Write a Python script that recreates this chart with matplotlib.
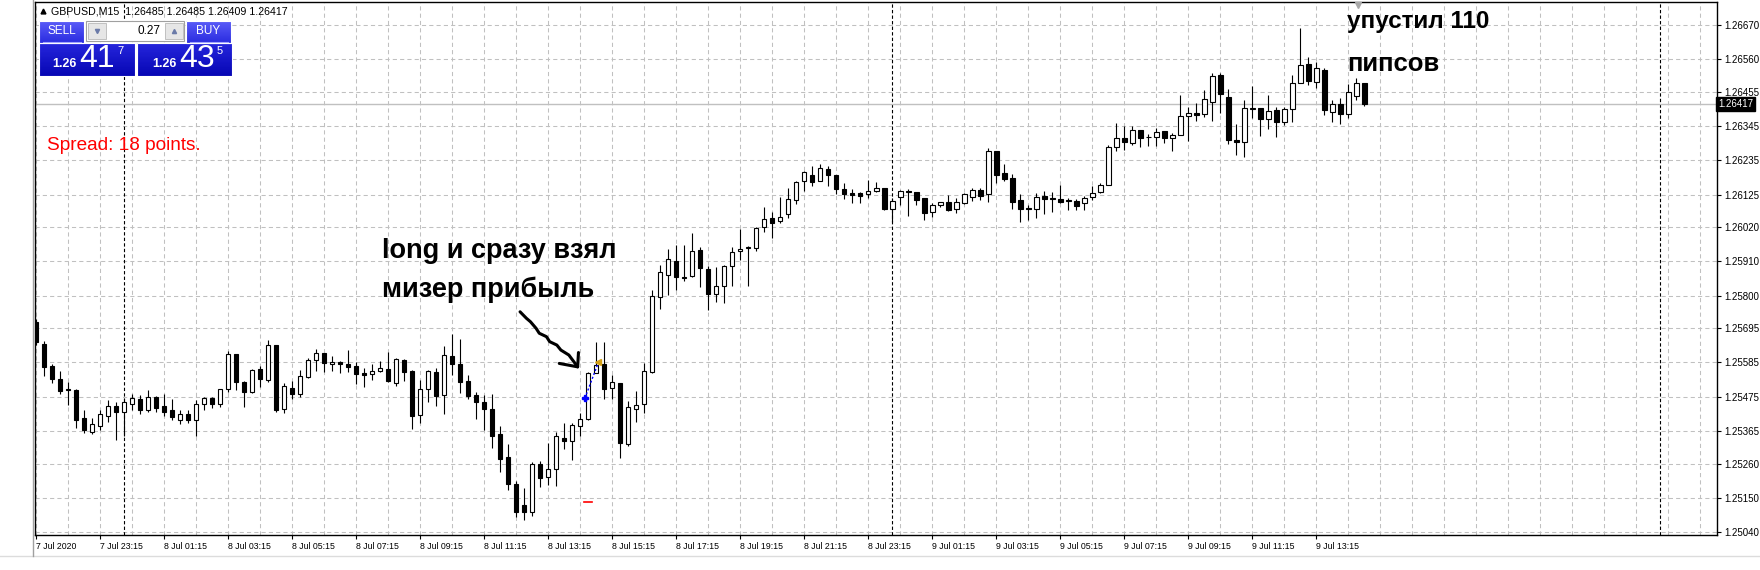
import numpy as np
import matplotlib
matplotlib.use('Agg')
import matplotlib.pyplot as plt
from matplotlib.patches import Rectangle
from matplotlib.transforms import blended_transform_factory

# GBPUSD M15, one bar per entry
o = [1.25716, 1.25644, 1.25574, 1.25531, 1.25500, 1.25497, 1.25406, 1.25361, 1.25381, 1.25413,
     1.25445, 1.25425, 1.25451, 1.25467, 1.25432, 1.25474, 1.25445, 1.25432, 1.25400, 1.25419,
     1.25400, 1.25451, 1.25470, 1.25451, 1.25499, 1.25611, 1.25521, 1.25491, 1.25563, 1.25528,
     1.25641, 1.25434, 1.25502, 1.25483, 1.25537, 1.25592, 1.25615, 1.25579, 1.25588, 1.25580,
     1.25574, 1.25550, 1.25547, 1.25559, 1.25563, 1.25520, 1.25592, 1.25558, 1.25415, 1.25499,
     1.25554, 1.25480, 1.25605, 1.25580, 1.25526, 1.25480, 1.25457, 1.25437, 1.25355, 1.25281,
     1.25194, 1.25127, 1.25104, 1.25259, 1.25216, 1.25242, 1.25342, 1.25334, 1.25380, 1.25402,
     1.25552, 1.25580, 1.25502, 1.25518, 1.25323, 1.25437, 1.25451, 1.25555, 1.25797, 1.25866,
     1.25912, 1.25860, 1.25863, 1.25946, 1.25885, 1.25804, 1.25831, 1.25895, 1.25943, 1.25954,
     1.25952, 1.26021, 1.26048, 1.26039, 1.26061, 1.26106, 1.26167, 1.26187, 1.26167, 1.26206,
     1.26187, 1.26144, 1.26129, 1.26129, 1.26126, 1.26137, 1.26145, 1.26079, 1.26118, 1.26137,
     1.26134, 1.26115, 1.26070, 1.26090, 1.26100, 1.26077, 1.26099, 1.26118, 1.26139, 1.26126,
     1.26265, 1.26193, 1.26177, 1.26107, 1.26082, 1.26077, 1.26120, 1.26115, 1.26111, 1.26107,
     1.26104, 1.26097, 1.26116, 1.26134, 1.26155, 1.26277, 1.26306, 1.26292, 1.26332, 1.26310,
     1.26309, 1.26329, 1.26306, 1.26315, 1.26377, 1.26386, 1.26384, 1.26423, 1.26508, 1.26438,
     1.26299, 1.26293, 1.26401, 1.26402, 1.26367, 1.26397, 1.26357, 1.26399, 1.26483, 1.26544,
     1.26487, 1.26525, 1.26390, 1.26416, 1.26384, 1.26442, 1.26485]
h = [1.25724, 1.25654, 1.25580, 1.25558, 1.25522, 1.25500, 1.25432, 1.25406, 1.25432, 1.25464,
     1.25458, 1.25470, 1.25484, 1.25480, 1.25497, 1.25477, 1.25484, 1.25467, 1.25432, 1.25432,
     1.25464, 1.25474, 1.25474, 1.25501, 1.25622, 1.25612, 1.25526, 1.25564, 1.25574, 1.25657,
     1.25641, 1.25518, 1.25526, 1.25561, 1.25599, 1.25628, 1.25615, 1.25606, 1.25590, 1.25624,
     1.25586, 1.25566, 1.25579, 1.25589, 1.25619, 1.25599, 1.25596, 1.25561, 1.25529, 1.25561,
     1.25566, 1.25638, 1.25677, 1.25660, 1.25545, 1.25491, 1.25480, 1.25484, 1.25381, 1.25323,
     1.25204, 1.25181, 1.25265, 1.25269, 1.25326, 1.25361, 1.25390, 1.25390, 1.25423, 1.25555,
     1.25652, 1.25652, 1.25545, 1.25520, 1.25462, 1.25492, 1.25584, 1.25818, 1.25898, 1.25950,
     1.25963, 1.25963, 1.26000, 1.25957, 1.25895, 1.25893, 1.25898, 1.25957, 1.26014, 1.25959,
     1.26021, 1.26084, 1.26068, 1.26116, 1.26145, 1.26169, 1.26202, 1.26217, 1.26223, 1.26217,
     1.26187, 1.26161, 1.26142, 1.26132, 1.26172, 1.26165, 1.26147, 1.26113, 1.26139, 1.26143,
     1.26134, 1.26115, 1.26097, 1.26102, 1.26123, 1.26113, 1.26131, 1.26145, 1.26145, 1.26275,
     1.26265, 1.26223, 1.26190, 1.26127, 1.26091, 1.26129, 1.26136, 1.26132, 1.26156, 1.26115,
     1.26110, 1.26120, 1.26152, 1.26161, 1.26284, 1.26354, 1.26345, 1.26345, 1.26332, 1.26320,
     1.26338, 1.26329, 1.26322, 1.26445, 1.26405, 1.26418, 1.26461, 1.26516, 1.26515, 1.26463,
     1.26351, 1.26429, 1.26474, 1.26402, 1.26445, 1.26405, 1.26405, 1.26509, 1.26659, 1.26566,
     1.26551, 1.26532, 1.26429, 1.26435, 1.26480, 1.26500, 1.26485]
l = [1.25641, 1.25542, 1.25520, 1.25484, 1.25448, 1.25374, 1.25358, 1.25355, 1.25368, 1.25393,
     1.25335, 1.25348, 1.25432, 1.25419, 1.25425, 1.25425, 1.25413, 1.25400, 1.25387, 1.25390,
     1.25348, 1.25432, 1.25438, 1.25442, 1.25490, 1.25497, 1.25443, 1.25486, 1.25507, 1.25523,
     1.25427, 1.25422, 1.25468, 1.25475, 1.25534, 1.25559, 1.25555, 1.25559, 1.25552, 1.25554,
     1.25516, 1.25505, 1.25529, 1.25554, 1.25523, 1.25510, 1.25526, 1.25371, 1.25391, 1.25459,
     1.25446, 1.25418, 1.25545, 1.25486, 1.25468, 1.25403, 1.25368, 1.25309, 1.25234, 1.25175,
     1.25088, 1.25079, 1.25091, 1.25184, 1.25191, 1.25188, 1.25308, 1.25272, 1.25349, 1.25400,
     1.25552, 1.25467, 1.25467, 1.25277, 1.25317, 1.25395, 1.25422, 1.25552, 1.25756, 1.25802,
     1.25818, 1.25848, 1.25861, 1.25827, 1.25754, 1.25780, 1.25775, 1.25832, 1.25914, 1.25832,
     1.25944, 1.26005, 1.25984, 1.26034, 1.26050, 1.26094, 1.26137, 1.26153, 1.26167, 1.26153,
     1.26126, 1.26110, 1.26097, 1.26097, 1.26113, 1.26134, 1.26075, 1.26037, 1.26091, 1.26056,
     1.26091, 1.26043, 1.26054, 1.26086, 1.26073, 1.26065, 1.26094, 1.26104, 1.26107, 1.26102,
     1.26161, 1.26169, 1.26078, 1.26037, 1.26043, 1.26048, 1.26062, 1.26070, 1.26097, 1.26075,
     1.26075, 1.26075, 1.26107, 1.26129, 1.26155, 1.26266, 1.26268, 1.26284, 1.26279, 1.26282,
     1.26282, 1.26292, 1.26266, 1.26315, 1.26297, 1.26362, 1.26375, 1.26362, 1.26386, 1.26287,
     1.26252, 1.26245, 1.26370, 1.26314, 1.26335, 1.26311, 1.26349, 1.26359, 1.26483, 1.26477,
     1.26468, 1.26381, 1.26358, 1.26352, 1.26371, 1.26429, 1.26409]
c = [1.25652, 1.25571, 1.25533, 1.25494, 1.25497, 1.25400, 1.25368, 1.25387, 1.25419, 1.25445,
     1.25425, 1.25458, 1.25470, 1.25432, 1.25474, 1.25438, 1.25425, 1.25409, 1.25419, 1.25400,
     1.25451, 1.25470, 1.25451, 1.25499, 1.25611, 1.25521, 1.25489, 1.25560, 1.25531, 1.25640,
     1.25432, 1.25508, 1.25485, 1.25542, 1.25592, 1.25615, 1.25582, 1.25586, 1.25581, 1.25571,
     1.25549, 1.25546, 1.25557, 1.25566, 1.25526, 1.25595, 1.25555, 1.25414, 1.25499, 1.25557,
     1.25477, 1.25608, 1.25579, 1.25523, 1.25478, 1.25459, 1.25436, 1.25350, 1.25275, 1.25193,
     1.25104, 1.25104, 1.25259, 1.25215, 1.25242, 1.25348, 1.25332, 1.25384, 1.25402, 1.25550,
     1.25577, 1.25500, 1.25523, 1.25325, 1.25441, 1.25447, 1.25557, 1.25799, 1.25876, 1.25918,
     1.25859, 1.25858, 1.25943, 1.25888, 1.25804, 1.25831, 1.25895, 1.25939, 1.25949, 1.25955,
     1.26016, 1.26046, 1.26034, 1.26054, 1.26110, 1.26165, 1.26196, 1.26166, 1.26209, 1.26187,
     1.26144, 1.26126, 1.26124, 1.26119, 1.26135, 1.26145, 1.26078, 1.26104, 1.26136, 1.26132,
     1.26107, 1.26067, 1.26091, 1.26100, 1.26075, 1.26100, 1.26127, 1.26139, 1.26121, 1.26265,
     1.26188, 1.26174, 1.26102, 1.26079, 1.26077, 1.26116, 1.26110, 1.26110, 1.26102, 1.26104,
     1.26089, 1.26115, 1.26131, 1.26156, 1.26277, 1.26306, 1.26293, 1.26332, 1.26308, 1.26309,
     1.26327, 1.26308, 1.26316, 1.26377, 1.26386, 1.26382, 1.26431, 1.26505, 1.26447, 1.26299,
     1.26293, 1.26402, 1.26403, 1.26367, 1.26394, 1.26359, 1.26399, 1.26483, 1.26541, 1.26491,
     1.26532, 1.26397, 1.26416, 1.26384, 1.26455, 1.26485, 1.26417]

price_ticks = [1.26670, 1.26560, 1.26455, 1.26345, 1.26235, 1.26125, 1.26020, 1.25910,
               1.25800, 1.25695, 1.25585, 1.25475, 1.25365, 1.25260, 1.25150, 1.25040]
time_labels = ['7 Jul 2020', '7 Jul 23:15', '8 Jul 01:15', '8 Jul 03:15', '8 Jul 05:15',
               '8 Jul 07:15', '8 Jul 09:15', '8 Jul 11:15', '8 Jul 13:15', '8 Jul 15:15',
               '8 Jul 17:15', '8 Jul 19:15', '8 Jul 21:15', '8 Jul 23:15', '9 Jul 01:15',
               '9 Jul 03:15', '9 Jul 05:15', '9 Jul 07:15', '9 Jul 09:15', '9 Jul 11:15',
               '9 Jul 13:15']
day_separators = [11, 107, 203]   # bar index of 00:00

bid = 1.26417
ask = 1.26435
lot = 0.27
spread = 18
last_bar = [1.26485, 1.26485, 1.26409, 1.26417]

# the long trade
entry_bar, entry_price = 68.6, 1.25470
exit_bar, exit_price = 70.3, 1.25586
sl_bar, sl_price = 69.0, 1.25135

# hand drawn arrow (bar index, price)
arrow_x = [60.5, 61.3, 61.8, 62.5, 62.9, 63.8, 64.2, 65.1, 65.6, 66.6, 67.7]
arrow_y = [1.25748, 1.25727, 1.25716, 1.25695, 1.25679, 1.25668, 1.25652, 1.25641, 1.25625, 1.25609, 1.25571]
head_x = [65.4, 67.7, 67.8]
head_y = [1.25582, 1.25571, 1.25617]

o = np.array(o); h = np.array(h); l = np.array(l); c = np.array(c)
n = len(c)
x = np.arange(n)
up = c >= o

plt.rcParams['font.family'] = ['Liberation Sans', 'DejaVu Sans']

W, H = 1760, 570
fig = plt.figure(figsize=(W / 100, H / 100), dpi=100)
ax = fig.add_axes([35 / W, 35 / H, (1717 - 35) / W, (535 - 2) / H])
ax.set_xlim(-0.125, 210.1)
ax.set_ylim(1.250304, 1.26744)

grid_kw = dict(colors='#c0c0c0', linestyles=(0, (4, 3)), linewidth=0.75, zorder=1)
ax.vlines(np.arange(0, 212, 4), 1.250304, 1.26744, **grid_kw)
ax.hlines(price_ticks, -0.125, 210.1, **grid_kw)
ax.vlines(day_separators, 1.250304, 1.26744, colors='black', linestyles=(0, (3, 2)),
          linewidth=0.8, zorder=2)
ax.axhline(bid, color='#c0c0c0', lw=1, zorder=2)

# candles
ax.vlines(x, l, h, colors='black', linewidth=0.8, zorder=3)
ax.bar(x, np.abs(c - o), bottom=np.minimum(o, c), width=0.6,
       color=np.where(up, 'white', 'black'), edgecolor='black', linewidth=0.8, zorder=4)
doji = o == c
ax.hlines(o[doji], x[doji] - 0.35, x[doji] + 0.35, colors='black', linewidth=0.9, zorder=5)

# trade marks
ax.plot([entry_bar, exit_bar], [entry_price, exit_price], color='blue', lw=1,
        linestyle=(0, (1.5, 1.5)), zorder=6)
ax.plot(entry_bar, entry_price, marker='P', color='blue', ms=5, zorder=7)
ax.plot(exit_bar, exit_price, marker='<', color='#d4a017', ms=5, zorder=7)
ax.plot([sl_bar - 0.5, sl_bar + 0.5], [sl_price, sl_price], color='red', lw=1.2, zorder=6)

# annotations
ax.plot(arrow_x, arrow_y, color='black', lw=2.2, solid_capstyle='round', zorder=8)
ax.plot(head_x, head_y, color='black', lw=2.2, solid_capstyle='round',
        solid_joinstyle='round', zorder=8)
note_kw = dict(fontweight='bold', color='black', va='center', zorder=9)
ax.text(43.25, 1.25943, 'long и сразу взял', fontsize=19.5, **note_kw)
ax.text(43.25, 1.25818, 'мизер прибыль', fontsize=19.5, **note_kw)
ax.text(163.9, 1.26680, 'упустил 110', fontsize=17.5, **note_kw)
ax.text(163.9, 1.26545, 'пипсов', fontsize=18.5, **note_kw)

# axes
for s in ax.spines.values():
    s.set_linewidth(1)
    s.set_color('black')
ax.yaxis.tick_right()
ax.set_yticks(price_ticks)
ax.set_yticklabels([f'{v:.5f}' for v in price_ticks])
ax.tick_params(axis='y', length=3, width=0.8, pad=2, labelsize=7, direction='out')
ax.set_xticks(np.arange(0, 8 * len(time_labels), 8))
ax.set_xticklabels(time_labels)
ax.tick_params(axis='x', length=3, width=0.8, pad=2, labelsize=6.3, direction='out')
for lab in ax.get_xticklabels():
    lab.set_ha('left')

tr = blended_transform_factory(ax.transAxes, ax.transData)
ax.text(1.0008, bid, f'{bid:.5f}', transform=tr, fontsize=7, color='white', va='center',
        ha='left', bbox=dict(boxstyle='square,pad=0.22', fc='black', ec='black'), clip_on=False)

# overlay in pixels for terminal widgets
ov = fig.add_axes([0, 0, 1, 1], facecolor='none')
ov.set_xlim(0, W)
ov.set_ylim(H, 0)
ov.axis('off')

ov.plot([0, W], [556, 556], color='#dcdcdc', lw=1)
ov.plot([33, 33], [0, 556], color='#a0a0a0', lw=1)
ov.plot(1358, 5, marker='v', color='#a8a8a8', ms=5)

ov.plot(43, 11, marker='^', color='black', ms=3.5)
ov.text(51, 11, 'GBPUSD,M15  ' + ' '.join(f'{v:.5f}' for v in last_bar),
        fontsize=7.7, va='center', ha='left')


def grad_box(x0, x1, y0, y1, top, bot):
    t = np.linspace(0, 1, 40)[:, None, None]
    top = np.array(matplotlib.colors.to_rgb(top))
    bot = np.array(matplotlib.colors.to_rgb(bot))
    img = top * (1 - t) + bot * t
    ov.imshow(img, extent=[x0, x1, y1, y0], aspect='auto', interpolation='bilinear', zorder=2)
    ov.add_patch(Rectangle((x0, y0), x1 - x0, y1 - y0, fill=False, ec='white', lw=0.8, zorder=3))


grad_box(39, 84, 21, 43, '#5a5cf8', '#2a2ce0')
grad_box(186, 231, 21, 43, '#5a5cf8', '#2a2ce0')
grad_box(39, 135, 43, 76, '#2626dc', '#0606b4')
grad_box(137, 232, 43, 76, '#2626dc', '#0606b4')
ov.set_xlim(0, W)
ov.set_ylim(H, 0)

ov.add_patch(Rectangle((86, 21), 98, 20, fc='white', ec='#a0a0a0', lw=0.8, zorder=3))
ov.add_patch(Rectangle((88, 23), 18, 16, fc='#e6e6e6', ec='#b8b8b8', lw=0.6, zorder=4))
ov.add_patch(Rectangle((165, 23), 18, 16, fc='#e6e6e6', ec='#b8b8b8', lw=0.6, zorder=4))
ov.plot(97, 31, marker='v', color='#6a7aa8', ms=3, zorder=5)
ov.plot(174, 31, marker='^', color='#6a7aa8', ms=3, zorder=5)
ov.text(160, 31, f'{lot:.2f}', fontsize=8.5, ha='right', va='center', zorder=5)

ov.plot([43, 81], [41.5, 41.5], color='#a0a4ff', lw=0.8, zorder=4)
ov.plot([190, 228], [41.5, 41.5], color='#a0a4ff', lw=0.8, zorder=4)
ov.text(61.5, 31, 'SELL', fontsize=8.5, color='white', ha='center', va='center', zorder=5)
ov.text(208.5, 31, 'BUY', fontsize=8.5, color='white', ha='center', va='center', zorder=5)

for px, val in [(52, bid), (152, ask)]:
    s = f'{val:.5f}'
    ov.text(px, 64, s[:4], fontsize=9, fontweight='bold', color='white', va='center', zorder=5)
    ov.text(px + 27, 59, s[4:6], fontsize=23, color='white', va='center', zorder=5)
    ov.text(px + 65, 51, s[6], fontsize=8, color='white', va='center', zorder=5)

ov.text(47, 145, f'Spread: {spread} points.', fontsize=13.7, color='#ff0000', va='center')

fig.savefig('out.png', dpi=100)
